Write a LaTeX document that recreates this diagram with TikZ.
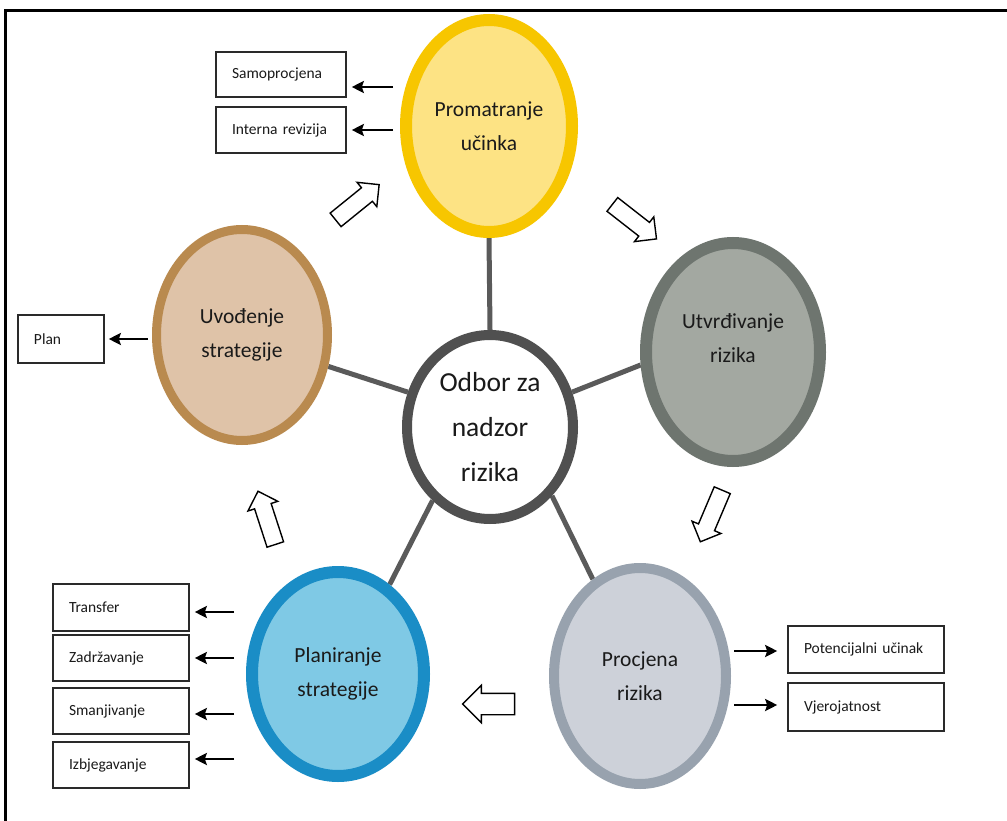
\documentclass[tikz,border=0pt]{standalone}
\usepackage{fontspec}
\setmainfont{Carlito}
\usetikzlibrary{shapes.geometric,shapes.arrows,arrows.meta,backgrounds}
\definecolor{txt}{HTML}{1A1A1A}
\definecolor{promB}{HTML}{F7C600}
\definecolor{promF}{HTML}{FDE384}
\definecolor{utvB}{HTML}{6E756F}
\definecolor{utvF}{HTML}{A3A8A1}
\definecolor{procB}{HTML}{98A2AE}
\definecolor{procF}{HTML}{CDD1D9}
\definecolor{planB}{HTML}{1A8DC6}
\definecolor{planF}{HTML}{7FC9E5}
\definecolor{uvoB}{HTML}{B98A4F}
\definecolor{uvoF}{HTML}{DFC3A8}
\definecolor{centB}{HTML}{505050}
\definecolor{spokec}{HTML}{5A5A5A}
\definecolor{boxc}{HTML}{2A2A2A}
\begin{document}
\begin{tikzpicture}[x=1pt,y=-1pt,
  bubble/.style={ellipse, inner sep=0pt, align=center, text=txt,
    font=\fontsize{21.5}{34}\selectfont},
  btext/.style={align=center, text=txt, inner sep=0pt, font=\fontsize{21.5}{34}\selectfont},
  centre/.style={ellipse, inner sep=0pt, align=center, text=txt, draw=centB, fill=white,
    line width=10pt, font=\fontsize{27.5}{45}\selectfont},
  box/.style={rectangle, draw=boxc, line width=1.6pt, inner xsep=16pt, inner ysep=0pt,
    align=left, text=txt, font=\fontsize{15.5}{18}\selectfont},
  blk/.style={single arrow, draw=black, fill=white, line width=1.4pt,
    inner xsep=0pt, inner ysep=8pt, single arrow head extend=7pt,
    single arrow head indent=0pt, minimum height=56pt},
  sarr/.style={draw=black, line width=2.8pt, -{Stealth[length=12pt,width=12pt,inset=2pt]}},
  spoke/.style={draw=spokec, line width=5pt}]

\useasboundingbox (0,0) rectangle (1007,821);
\begin{scope}[on background layer]
  \fill[white] (0,0) rectangle (1007,821);
\end{scope}
\draw[line width=3pt] (5,821) -- (5,10.5) -- (1007,10.5);

% bubbles
\node[bubble, draw=promB, fill=promF, line width=12pt, minimum width=166pt, minimum height=212pt]
  (prom) at (489,126) {Promatranje\\učinka};
\node[bubble, draw=utvB, fill=utvF, line width=12pt, minimum width=174pt, minimum height=218pt,
  label={[btext, yshift=14pt]center:Utvrđivanje\\rizika}]
  (utv) at (733,352) {};
\node[bubble, draw=procB, fill=procF, line width=10pt, minimum width=172pt, minimum height=216pt]
  (proc) at (640,676) {Procjena\\rizika};
\node[bubble, draw=planB, fill=planF, line width=12pt, minimum width=172pt, minimum height=204pt]
  (plan) at (338,674) {Planiranje\\strategije};
\node[bubble, draw=uvoB, fill=uvoF, line width=9pt, minimum width=171pt, minimum height=211pt]
  (uvo) at (242,335) {Uvođenje\\strategije};
\node[centre, minimum width=166pt, minimum height=184pt] (c) at (490,427) {Odbor za\\nadzor\\rizika};

% spokes
\begin{scope}[on background layer]
  \draw[spoke] (c.90) -- (prom.-90);
  \draw[spoke] (c.23) -- (utv.-172);
  \draw[spoke] (c.-48) -- (proc.116);
  \draw[spoke] (c.-128) -- (plan.60);
  \draw[spoke] (c.157) -- (uvo.-20);
\end{scope}

% block arrows
\node[blk, rotate=39] (b1) at (354,205) {};
\node[blk, rotate=-38] (b2) at (631,219) {};
\node[blk, rotate=-113] (b3) at (713,512) {};
\node[blk, rotate=180, minimum height=52pt, inner ysep=10pt, single arrow head extend=8pt] (b4) at (494,704) {};
\node[blk, rotate=108] (b5) at (268,522) {};

% boxes
\node[box, text width=98pt, minimum height=45pt] (samo) at (281,74.5) {Samoprocjena};
\node[box, text width=98pt, minimum height=46pt] (inter) at (281,130) {Interna revizija};
\node[box, text width=54pt, minimum height=48pt] (planb) at (61,339) {Plan};
\node[box, text width=104pt, minimum height=47pt] (trans) at (121,607.5) {Transfer};
\node[box, text width=104pt, minimum height=46pt] (zadr) at (121,658) {Zadržavanje};
\node[box, text width=104pt, minimum height=46pt] (sman) at (121,711) {Smanjivanje};
\node[box, text width=104pt, minimum height=46pt] (izbj) at (121,765) {Izbjegavanje};
\node[box, text width=124pt, minimum height=47pt] (pot) at (866,649.5) {Potencijalni učinak};
\node[box, text width=124pt, minimum height=48pt] (vje) at (866,707) {Vjerojatnost};

% small arrows
\coordinate (s1) at (393,87);
\coordinate (s2) at (393,130);
\coordinate (s3) at (148,339);
\coordinate (s4) at (234,612);
\coordinate (s5) at (234,658);
\coordinate (s6) at (234,714);
\coordinate (s7) at (234,759);
\coordinate (s8) at (734,651);
\coordinate (s9) at (734,705);
\draw[sarr, shorten >=5pt] (s1) -- (s1 -| samo.east);
\draw[sarr, shorten >=5pt] (s2) -- (s2 -| inter.east);
\draw[sarr, shorten >=4pt] (s3) -- (s3 -| planb.east);
\draw[sarr, shorten >=5pt] (s4) -- (s4 -| trans.east);
\draw[sarr, shorten >=5pt] (s5) -- (s5 -| zadr.east);
\draw[sarr, shorten >=5pt] (s6) -- (s6 -| sman.east);
\draw[sarr, shorten >=5pt] (s7) -- (s7 -| izbj.east);
\draw[sarr, shorten >=10pt] (s8) -- (s8 -| pot.west);
\draw[sarr, shorten >=10pt] (s9) -- (s9 -| vje.west);
\end{tikzpicture}
\end{document}
